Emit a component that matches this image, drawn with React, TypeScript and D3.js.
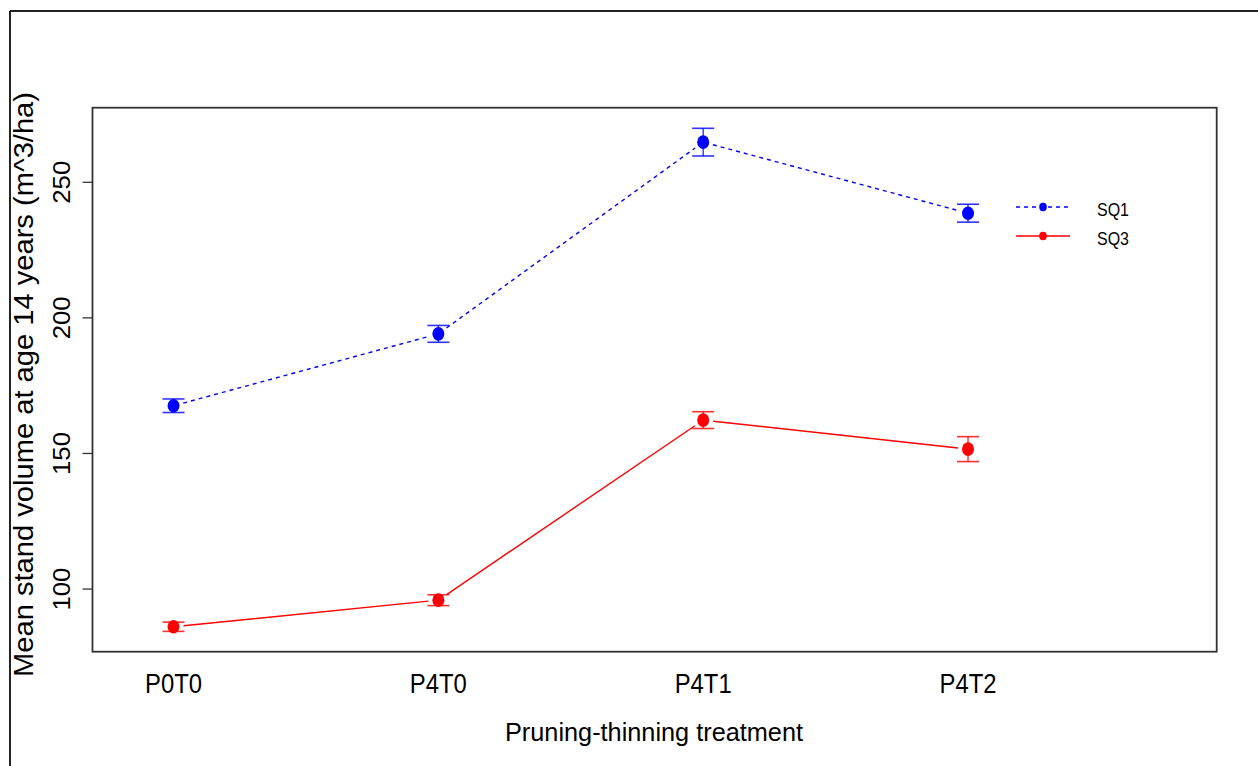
import React from "react";
import * as d3 from "d3";

// Pruning-thinning treatments on the x axis
const treatments = ["P0T0", "P4T0", "P4T1", "P4T2"];

// Mean stand volume (m^3/ha) at age 14 years and its standard error
const sq1Mean = [167.6, 194.1, 264.8, 238.6];
const sq1Se = [2.5, 3.1, 5.1, 3.3];
const sq3Mean = [86.1, 95.9, 162.3, 151.6];
const sq3Se = [1.7, 2.0, 3.1, 4.6];

const yTicks = [100, 150, 200, 250];

const seriesNames = ["SQ1", "SQ3"];
const seriesColors = ["#0000ff", "#ff0000"];
const seriesDash = ["4,4", null];

const W = 1258;
const H = 766;
const box = { left: 92.5, top: 107.7, right: 1216.7, bottom: 651.7 };
const FONT = "'Liberation Sans', Arial, sans-serif";

export default function App() {
  const x = d3.scaleLinear().domain([0.694, 4.939]).range([box.left, box.right]);
  const y = d3.scaleLinear().domain([76.9, 277.5]).range([box.bottom, box.top]);

  const series = [
    { means: sq1Mean, se: sq1Se },
    { means: sq3Mean, se: sq3Se },
  ];

  // type "b" style: segments stop short of each point
  const gap = 10;
  const segs = (means: number[]) => {
    const out: { x1: number; y1: number; x2: number; y2: number }[] = [];
    for (let i = 0; i < means.length - 1; i++) {
      const ax = x(i + 1), ay = y(means[i]);
      const bx = x(i + 2), by = y(means[i + 1]);
      const len = Math.hypot(bx - ax, by - ay);
      const ux = (bx - ax) / len, uy = (by - ay) / len;
      out.push({ x1: ax + ux * gap, y1: ay + uy * gap, x2: bx - ux * gap, y2: by - uy * gap });
    }
    return out;
  };

  return (
    <svg
      width={W}
      height={H}
      style={{ position: "absolute", left: 0, top: 0, background: "#fff" }}
      fontFamily={FONT}
    >
      <rect x={0} y={0} width={W} height={H} fill="#fff" />
      {/* outer frame */}
      <line x1={10} y1={11} x2={W} y2={11} stroke="#222" strokeWidth={2} />
      <line x1={10} y1={11} x2={10} y2={H} stroke="#222" strokeWidth={2} />

      {/* plot box */}
      <rect
        x={box.left}
        y={box.top}
        width={box.right - box.left}
        height={box.bottom - box.top}
        fill="none"
        stroke="#333"
        strokeWidth={1.8}
      />

      {/* y axis ticks and labels */}
      {yTicks.map((t) => (
        <g key={t}>
          <line x1={82.5} x2={box.left} y1={y(t)} y2={y(t)} stroke="#333" strokeWidth={1.3} />
          <text
            transform={`translate(70,${y(t)}) rotate(-90)`}
            textAnchor="middle"
            fontSize={23}
            textLength={43}
            lengthAdjust="spacingAndGlyphs"
            fill="#000"
          >
            {t}
          </text>
        </g>
      ))}

      {/* x tick labels */}
      {treatments.map((c, i) => (
        <text
          key={c}
          x={x(i + 1)}
          y={693}
          textAnchor="middle"
          fontSize={27}
          textLength={57}
          lengthAdjust="spacingAndGlyphs"
          fill="#000"
        >
          {c}
        </text>
      ))}

      {/* axis titles */}
      <text
        x={654}
        y={741}
        textAnchor="middle"
        fontSize={26}
        textLength={298}
        lengthAdjust="spacingAndGlyphs"
        fill="#000"
      >
        Pruning-thinning treatment
      </text>
      <text
        transform={`translate(33,384.5) rotate(-90)`}
        textAnchor="middle"
        fontSize={27}
        textLength={585}
        lengthAdjust="spacingAndGlyphs"
        fill="#000"
      >
        Mean stand volume at age 14 years (m^3/ha)
      </text>

      {/* series */}
      {series.map((s, si) => (
        <g key={seriesNames[si]}>
          {segs(s.means).map((g, i) => (
            <line
              key={i}
              x1={g.x1}
              y1={g.y1}
              x2={g.x2}
              y2={g.y2}
              stroke={seriesColors[si]}
              strokeWidth={1.4}
              strokeDasharray={seriesDash[si] ?? undefined}
            />
          ))}
          {s.means.map((m, i) => {
            const cx = x(i + 1);
            const top = y(m + s.se[i]);
            const bot = y(m - s.se[i]);
            return (
              <g key={i}>
                <line x1={cx} x2={cx} y1={top} y2={bot} stroke={seriesColors[si]} strokeWidth={1.4} opacity={0.8} />
                <line x1={cx - 11} x2={cx + 11} y1={top} y2={top} stroke={seriesColors[si]} strokeWidth={1.6} opacity={0.8} />
                <line x1={cx - 11} x2={cx + 11} y1={bot} y2={bot} stroke={seriesColors[si]} strokeWidth={1.6} opacity={0.8} />
                <ellipse cx={cx} cy={y(m)} rx={6} ry={6.8} fill={seriesColors[si]} />
              </g>
            );
          })}
        </g>
      ))}

      {/* legend */}
      {seriesNames.map((n, i) => {
        const ly = 207 + i * 29;
        return (
          <g key={n}>
            <line
              x1={1016}
              x2={1070}
              y1={ly}
              y2={ly}
              stroke={seriesColors[i]}
              strokeWidth={1.4}
              strokeDasharray={seriesDash[i] ?? undefined}
            />
            <ellipse cx={1043} cy={ly} rx={3.8} ry={4.2} fill={seriesColors[i]} />
            <text
              x={1097}
              y={ly + 9}
              fontSize={18}
              textLength={32}
              lengthAdjust="spacingAndGlyphs"
              fill="#000"
            >
              {n}
            </text>
          </g>
        );
      })}
    </svg>
  );
}
